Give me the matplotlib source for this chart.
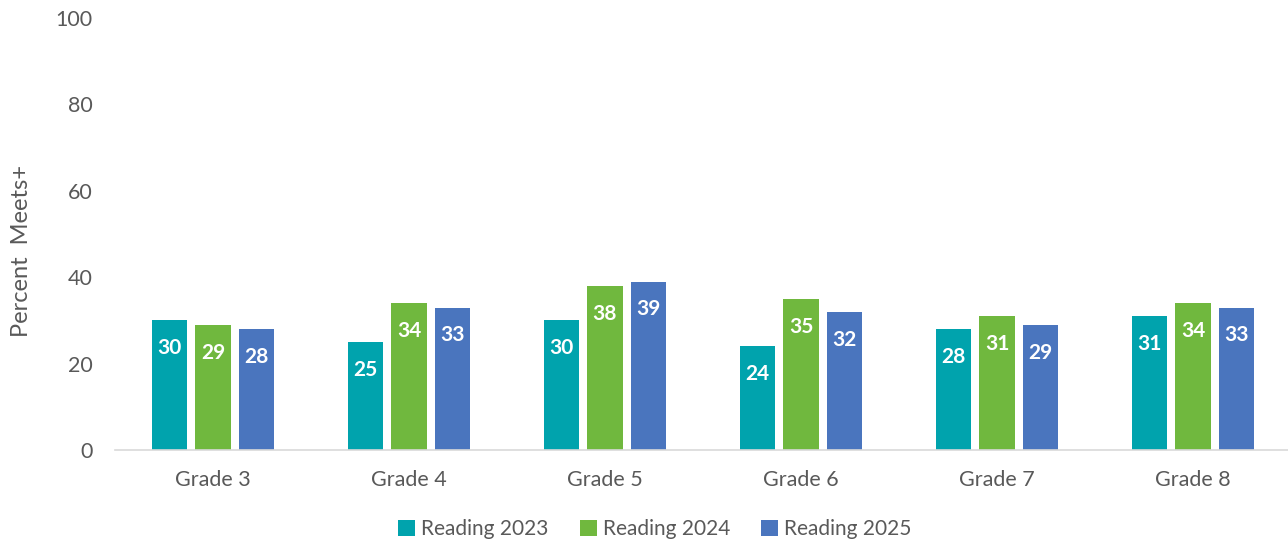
import numpy as np
import matplotlib
matplotlib.use('Agg')
from matplotlib import pyplot as plt

# chart data
grades = ['Grade 3', 'Grade 4', 'Grade 5', 'Grade 6', 'Grade 7', 'Grade 8']
series_names = ['Reading 2023', 'Reading 2024', 'Reading 2025']
reading_2023 = [30, 25, 30, 24, 28, 31]
reading_2024 = [29, 34, 38, 35, 31, 34]
reading_2025 = [28, 33, 39, 32, 29, 33]
y_ticks = [0, 20, 40, 60, 80, 100]

colors = ['#00A3AD', '#70B83E', '#4A75BE']
text_gray = '#595959'

plt.rcParams['font.family'] = ['Lato', 'DejaVu Sans']

fig = plt.figure(figsize=(12.88, 5.43), dpi=100)
ax = fig.add_axes([0.0893, 0.171, 0.913, 0.796])

x = np.arange(len(grades))
bar_w = 0.18
step = 0.222

for i, (vals, name, col) in enumerate(zip([reading_2023, reading_2024, reading_2025], series_names, colors)):
    pos = x + (i - 1) * step
    bars = ax.bar(pos, vals, width=bar_w, color=col, label=name, zorder=2)
    for b, v in zip(bars, vals):
        ax.annotate(str(v), (b.get_x() + b.get_width() / 2, v),
                    xytext=(0, -20), textcoords='offset points',
                    ha='center', va='center', color='white',
                    fontsize=15, fontweight='bold')

ax.set_xlim(-0.5, 5.5)
ax.set_ylim(0, 100)
ax.set_yticks(y_ticks)
ax.set_xticks(x)
ax.set_xticklabels(grades)
ax.tick_params(axis='both', length=0, colors=text_gray, labelsize=15.5)
ax.tick_params(axis='y', pad=16)
ax.tick_params(axis='x', pad=14)

for s in ['top', 'right', 'left']:
    ax.spines[s].set_visible(False)
ax.spines['bottom'].set_color('#D9D9D9')
ax.spines['bottom'].set_linewidth(1.2)

ax.set_ylabel('Percent  Meets+', color=text_gray, fontsize=17)
ax.yaxis.set_label_coords(-0.071, 0.46)

fig.legend(loc='center', bbox_to_anchor=(655 / 1288, 1 - 529 / 543), ncol=3,
           frameon=False, fontsize=15, labelcolor=text_gray,
           handlelength=0.8, handleheight=0.8, handletextpad=0.3, columnspacing=1.5)

fig.savefig('out.png', dpi=100)
